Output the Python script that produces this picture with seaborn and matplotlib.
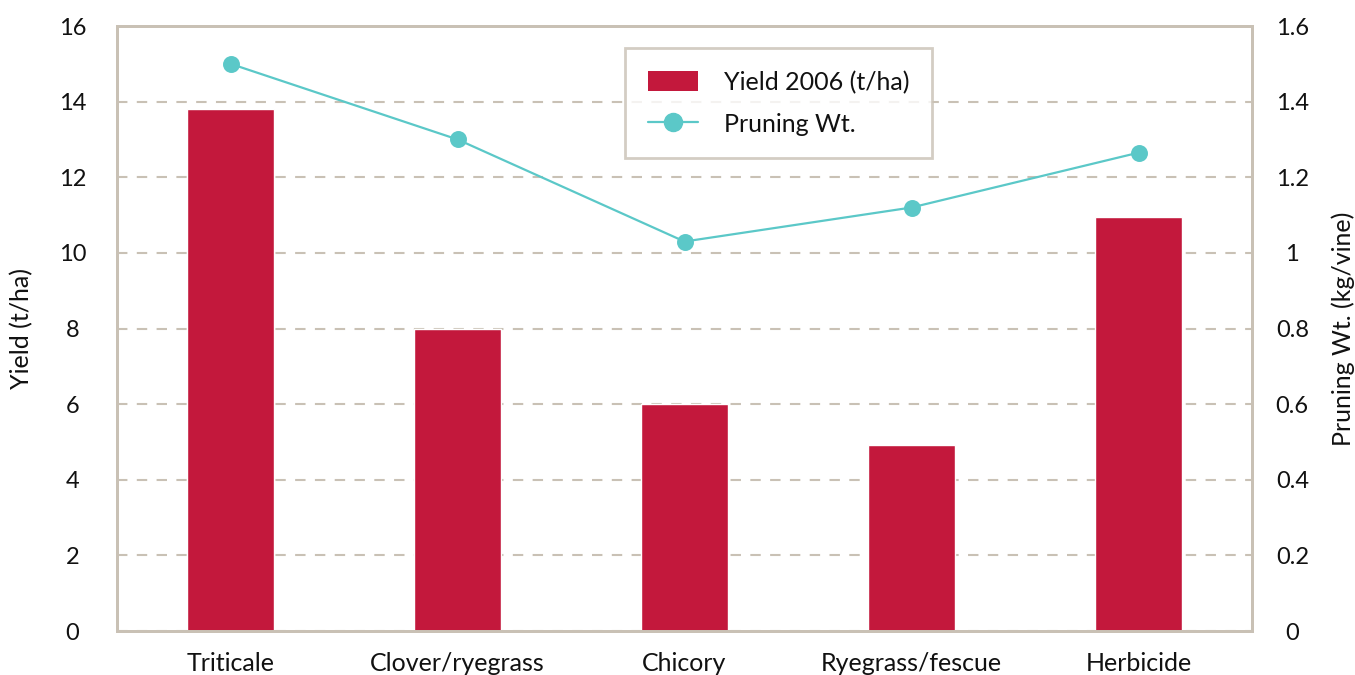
import matplotlib
matplotlib.use('Agg')
import matplotlib.pyplot as plt
from matplotlib.ticker import FixedLocator, NullFormatter
from matplotlib.patches import Patch
from matplotlib.lines import Line2D
import pandas as pd
import seaborn as sns

# dados
tratamentos = ['Triticale', 'Clover/ryegrass', 'Chicory', 'Ryegrass/fescue', 'Herbicide']
yield_2006 = [13.8, 8.0, 6.0, 4.92, 10.95]
pruning_wt = [1.50, 1.30, 1.03, 1.12, 1.265]

cor_barra = '#C3183C'
cor_linha = '#5BC8C8'
cor_eixo = '#C9C1B5'
cor_texto = '#111111'

sns.set_style('white')
plt.rcParams['font.family'] = ['Lato', 'DejaVu Sans']
plt.rcParams['text.color'] = cor_texto
plt.rcParams['axes.labelcolor'] = cor_texto
plt.rcParams['xtick.labelcolor'] = cor_texto
plt.rcParams['ytick.labelcolor'] = cor_texto

df = pd.DataFrame({'tratamento': tratamentos, 'yield': yield_2006, 'pruning': pruning_wt})

fig = plt.figure(figsize=(13.55, 6.75), dpi=100)
ax = fig.add_axes([117/1355, 44/675, 1135/1355, 605/675])

sns.barplot(data=df, x='tratamento', y='yield', color=cor_barra, saturation=1,
            width=0.383, ax=ax)
ax.set_ylim(0, 16)
ax.set_xlim(-0.5, 4.5)
ax.set_yticks(range(0, 17, 2))
ax.yaxis.grid(True, linestyle=(0, (5, 4.5)), color=cor_eixo, linewidth=1.5)
ax.set_axisbelow(True)
ax.tick_params(axis='y', length=0, labelsize=17, pad=32)
for t in ax.get_yticklabels():
    t.set_ha('center')
ax.set_ylabel('Yield (t/ha)', fontsize=18)
ax.yaxis.label.set_va('center')
ax.yaxis.set_label_coords(-0.0837, 0.5)
ax.set_xlabel('')

# rótulos nas posições centrais, marcas nos limites das categorias
ax.xaxis.set_major_locator(FixedLocator([i - 0.5 for i in range(6)]))
ax.xaxis.set_major_formatter(NullFormatter())
ax.xaxis.set_minor_locator(FixedLocator(range(5)))
ax.set_xticklabels(tratamentos, minor=True)
ax.tick_params(axis='x', which='major', length=10, width=1.5, color=cor_eixo)
ax.tick_params(axis='x', which='minor', length=0, labelsize=18, pad=15)

for sp in ax.spines.values():
    sp.set_color(cor_eixo)
    sp.set_linewidth(2)

ax2 = ax.twinx()
sns.pointplot(data=df, x='tratamento', y='pruning', color=cor_linha, errorbar=None,
              markers='o', markersize=11, linewidth=1.6, ax=ax2)
ax2.set_ylim(0, 1.6)
ax2.set_xlim(-0.5, 4.5)
ax2.set_yticks([0, 0.2, 0.4, 0.6, 0.8, 1.0, 1.2, 1.4, 1.6])
ax2.set_yticklabels(['0', '0.2', '0.4', '0.6', '0.8', '1', '1.2', '1.4', '1.6'])
ax2.tick_params(axis='y', length=0, labelsize=17, pad=29)
for t in ax2.get_yticklabels():
    t.set_ha('center')
ax2.set_ylabel('Pruning Wt. (kg/vine)', fontsize=18)
ax2.yaxis.label.set_va('center')
ax2.yaxis.set_label_coords(1.080, 0.5)
ax2.set_xlabel('')
ax2.grid(False)
for sp in ax2.spines.values():
    sp.set_color(cor_eixo)
    sp.set_linewidth(2)

# legenda
handles = [Patch(facecolor=cor_barra, edgecolor='none'),
           Line2D([0], [0], color=cor_linha, lw=1.6, marker='o', markersize=13)]
leg = ax2.legend(handles, ['Yield 2006 (t/ha)', 'Pruning Wt.'],
                 loc='upper left', bbox_to_anchor=(0.4476, 0.9636), borderaxespad=0,
                 fontsize=18, frameon=True, fancybox=False,
                 borderpad=0.9, labelspacing=0.75, handlelength=2.0,
                 handleheight=0.85, handletextpad=1.05)
leg.get_frame().set_edgecolor(cor_eixo)
leg.get_frame().set_linewidth(2)

fig.savefig('out.png', dpi=100)
